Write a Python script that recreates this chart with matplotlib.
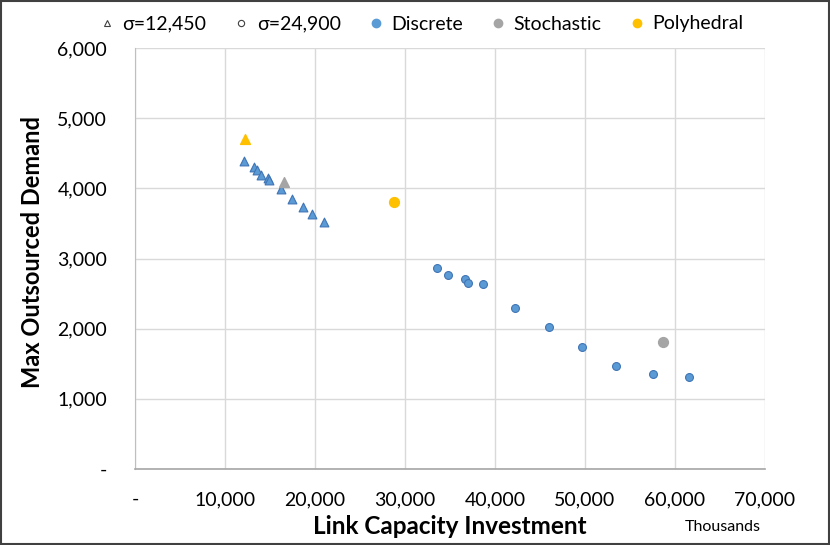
import numpy as np
import matplotlib.pyplot as plt
from matplotlib.lines import Line2D
from matplotlib.patches import Rectangle
from matplotlib.ticker import FuncFormatter, MultipleLocator

plt.rcParams['font.family'] = ['Lato', 'DejaVu Sans']

# -----------------------
# data (x in thousands)
# -----------------------
# sigma = 12,450 -> triangles
tri_disc_x = [12110, 13260, 13590, 14030, 14740, 14890, 16190, 17440, 18700, 19700, 21000]
tri_disc_y = [4394, 4304, 4261, 4190, 4143, 4118, 3989, 3846, 3732, 3632, 3516]
tri_stoch_x = [16560]
tri_stoch_y = [4094]
tri_poly_x = [12220]
tri_poly_y = [4703]

# sigma = 24,900 -> circles
circ_disc_x = [33560, 34810, 36670, 37030, 38670, 42220, 46000, 49670, 53440, 57520, 61560]
circ_disc_y = [2864, 2765, 2703, 2646, 2641, 2290, 2019, 1743, 1468, 1354, 1307]
circ_stoch_x = [58630]
circ_stoch_y = [1806]
circ_poly_x = [28810]
circ_poly_y = [3805]

legend_labels = ['σ=12,450', 'σ=24,900', 'Discrete', 'Stochastic', 'Polyhedral']

blue = '#5B9BD5'
blue_edge = '#3F74B5'
gray = '#A5A5A5'
yellow = '#FFC000'

W, H = 830, 545
fig = plt.figure(figsize=(W / 100, H / 100), dpi=100)
ax = fig.add_axes([135 / W, 1 - 469 / H, 630 / W, 421 / H])

# -----------------------
# points
# -----------------------
ax.scatter(tri_disc_x, tri_disc_y, marker='^', s=40, color=blue, edgecolor=blue_edge, linewidth=0.8, zorder=3)
ax.scatter(tri_stoch_x, tri_stoch_y, marker='^', s=50, color=gray, edgecolor=gray, zorder=3)
ax.scatter(tri_poly_x, tri_poly_y, marker='^', s=50, color=yellow, edgecolor=yellow, zorder=3)
ax.scatter(circ_disc_x, circ_disc_y, marker='o', s=32, color=blue, edgecolor=blue_edge, linewidth=0.8, zorder=3)
ax.scatter(circ_stoch_x, circ_stoch_y, marker='o', s=50, color=gray, edgecolor=gray, zorder=3)
ax.scatter(circ_poly_x, circ_poly_y, marker='o', s=50, color=yellow, edgecolor=yellow, zorder=3)

# -----------------------
# axes
# -----------------------
ax.set_xlim(0, 70000)
ax.set_ylim(0, 6000)
ax.xaxis.set_major_locator(MultipleLocator(10000))
ax.yaxis.set_major_locator(MultipleLocator(1000))
fmt = FuncFormatter(lambda v, p: '-' if v == 0 else f'{int(v):,}')
ax.xaxis.set_major_formatter(fmt)
ax.yaxis.set_major_formatter(fmt)
ax.tick_params(axis='both', length=0, labelsize=14, colors='#000000')
ax.tick_params(axis='x', pad=16)
ax.tick_params(axis='y', pad=20)
ax.grid(True, color='#D9D9D9', linewidth=1)
ax.set_axisbelow(True)
for s in ['top', 'right']:
    ax.spines[s].set_visible(False)
ax.spines['left'].set_color('#BFBFBF')
ax.spines['bottom'].set_color('#A6A6A6')
ax.spines['bottom'].set_linewidth(1.2)

fig.text(450 / W, 1 - 526 / H, 'Link Capacity Investment', ha='center', va='center',
         fontsize=17.5, fontweight='bold')
fig.text(723 / W, 1 - 527 / H, 'Thousands', ha='center', va='center', fontsize=11.5)
fig.text(33 / W, 1 - 252 / H, 'Max Outsourced Demand', ha='center', va='center',
         rotation=90, fontsize=17, fontweight='bold')

# -----------------------
# legend
# -----------------------
handles = [
    Line2D([], [], ls='none', marker='^', ms=4.5, mfc='white', mec='#404040', mew=0.8),
    Line2D([], [], ls='none', marker='o', ms=4.5, mfc='white', mec='#404040', mew=0.8),
    Line2D([], [], ls='none', marker='o', ms=6, mfc=blue, mec=blue),
    Line2D([], [], ls='none', marker='o', ms=6, mfc=gray, mec=gray),
    Line2D([], [], ls='none', marker='o', ms=6, mfc=yellow, mec=yellow),
]
fig.legend(handles, legend_labels, loc='center', bbox_to_anchor=(421 / W, 1 - 24 / H),
           ncol=5, frameon=False, fontsize=14, handlelength=0.8, handletextpad=0.4,
           columnspacing=1.4)

# outer border
fig.add_artist(Rectangle((0.001, 0.001), 0.998, 0.997, transform=fig.transFigure,
                         fill=False, edgecolor='#404040', linewidth=1.5))

fig.savefig('out.png', dpi=100)
